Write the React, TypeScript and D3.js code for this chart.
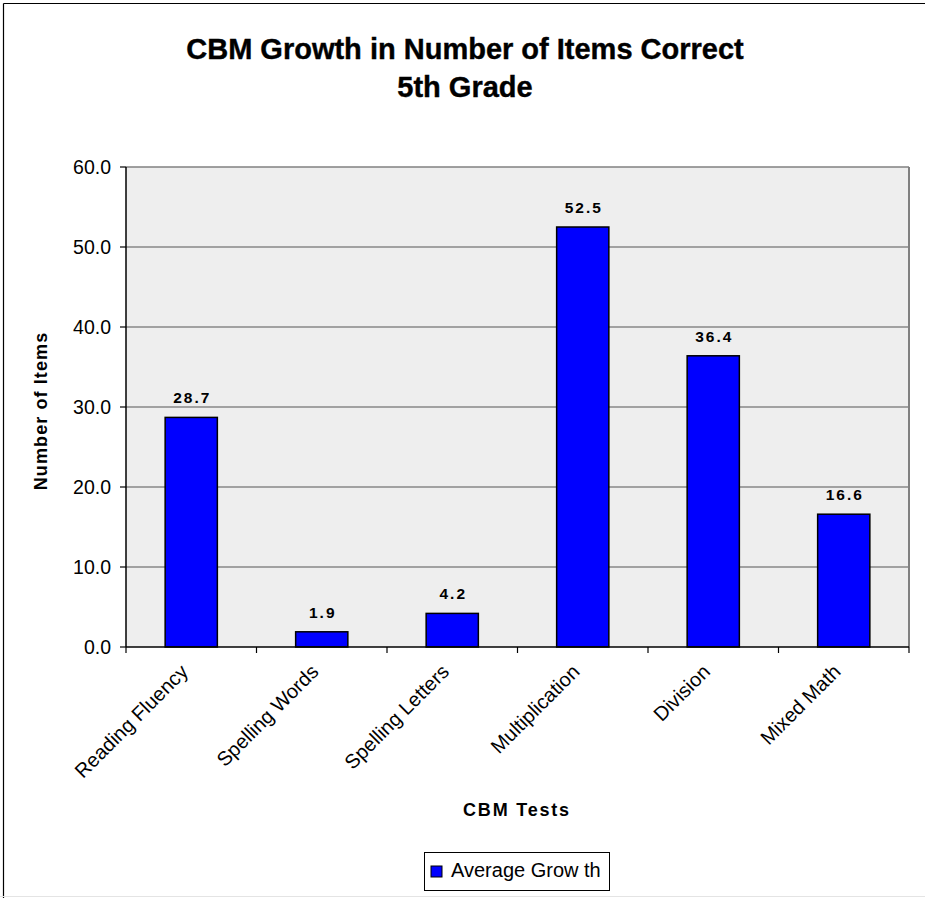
import React from "react";
import * as d3 from "d3";

const categories = ["Reading Fluency", "Spelling Words", "Spelling Letters", "Multiplication", "Division", "Mixed Math"];
const values = [28.7, 1.9, 4.2, 52.5, 36.4, 16.6];
const yTicks = [0, 10, 20, 30, 40, 50, 60];
const seriesName = "Average Grow th";
const titleLines = ["CBM Growth in Number of Items Correct", "5th Grade"];
const xTitle = "CBM Tests";
const yTitle = "Number of Items";

const W = 925;
const H = 898;
const left = 126;
const right = 909;
const top = 167;
const bottom = 647;
const FONT = "'Liberation Sans', Arial, sans-serif";

export default function App() {
  const x = d3.scaleBand<string>().domain(categories).range([left, right]).paddingInner(0.6).paddingOuter(0.3);
  const y = d3.scaleLinear().domain([0, 60]).range([bottom, top]);
  const bounds = d3.range(categories.length + 1).map((i) => left + i * ((right - left) / categories.length));

  return (
    <svg width={W} height={H} style={{ position: "absolute", left: 0, top: 0, background: "#fff" }} fontFamily={FONT}>
      {/* outer border */}
      <line x1={3.5} y1={3.5} x2={W} y2={3.5} stroke="#000" strokeWidth={1.2} />
      <line x1={3.5} y1={3.5} x2={3.5} y2={H} stroke="#000" strokeWidth={1.2} />
      <line x1={0} y1={896.5} x2={W} y2={896.5} stroke="#e4e4e4" strokeWidth={1} />

      {/* title */}
      <text x={465} y={59} textAnchor="middle" fontSize={29} fontWeight="bold" stroke="#000" strokeWidth={0.4}>{titleLines[0]}</text>
      <text x={465} y={97} textAnchor="middle" fontSize={29} fontWeight="bold" stroke="#000" strokeWidth={0.4}>{titleLines[1]}</text>

      {/* plot area */}
      <rect x={left} y={top} width={right - left} height={bottom - top} fill="#eeeeee" />
      {yTicks.filter((t) => t > 0 && t < 60).map((t) => (
        <line key={t} x1={left} x2={right} y1={y(t)} y2={y(t)} stroke="#555" strokeWidth={1.2} />
      ))}
      <line x1={left} x2={right} y1={y(60)} y2={y(60)} stroke="#808080" strokeWidth={1.5} />
      <line x1={right} x2={right} y1={top} y2={bottom} stroke="#808080" strokeWidth={2} />

      {/* bars */}
      {categories.map((c, i) => (
        <rect key={c} x={x(c)} y={y(values[i])} width={x.bandwidth()} height={y(0) - y(values[i])}
          fill="#0000ff" stroke="#000" strokeWidth={1.5} />
      ))}
      {/* data labels */}
      {categories.map((c, i) => (
        <text key={c} x={(x(c) as number) + x.bandwidth() / 2 + 1} y={y(values[i]) - 14} textAnchor="middle"
          fontSize={15.5} fontWeight="bold" letterSpacing={2}>{values[i].toFixed(1)}</text>
      ))}

      {/* axes */}
      <line x1={left} x2={left} y1={top} y2={bottom} stroke="#000" strokeWidth={1.5} />
      <line x1={left} x2={right} y1={bottom} y2={bottom} stroke="#000" strokeWidth={1.5} />
      {yTicks.map((t) => (
        <g key={t}>
          <line x1={left - 6} x2={left} y1={y(t)} y2={y(t)} stroke="#000" strokeWidth={1.2} />
          <text x={111} y={y(t)} dy="0.35em" textAnchor="end" fontSize={19.5}>{t.toFixed(1)}</text>
        </g>
      ))}
      {bounds.map((b, i) => (
        <line key={i} x1={b} x2={b} y1={bottom} y2={bottom + 6} stroke="#000" strokeWidth={1.2} />
      ))}
      {categories.map((c) => {
        const cx = (x(c) as number) + x.bandwidth() / 2 - 2;
        const cy = bottom + 26;
        return (
          <text key={c} x={cx} y={cy} textAnchor="end" fontSize={20} transform={`rotate(-45 ${cx} ${cy})`}>{c}</text>
        );
      })}

      {/* axis titles */}
      <text x={517} y={816} textAnchor="middle" fontSize={18} fontWeight="bold" letterSpacing={1.8}>{xTitle}</text>
      <text transform={`translate(47 ${(top + bottom) / 2 + 4}) rotate(-90)`} textAnchor="middle" fontSize={18}
        fontWeight="bold" letterSpacing={1.1}>{yTitle}</text>

      {/* legend */}
      <rect x={424.5} y={852.5} width={185} height={38} fill="#fff" stroke="#000" strokeWidth={1} />
      <rect x={431} y={866} width={11} height={11} fill="#0000ff" stroke="#000" strokeWidth={1} />
      <text x={451} y={877} fontSize={20}>{seriesName}</text>
    </svg>
  );
}
